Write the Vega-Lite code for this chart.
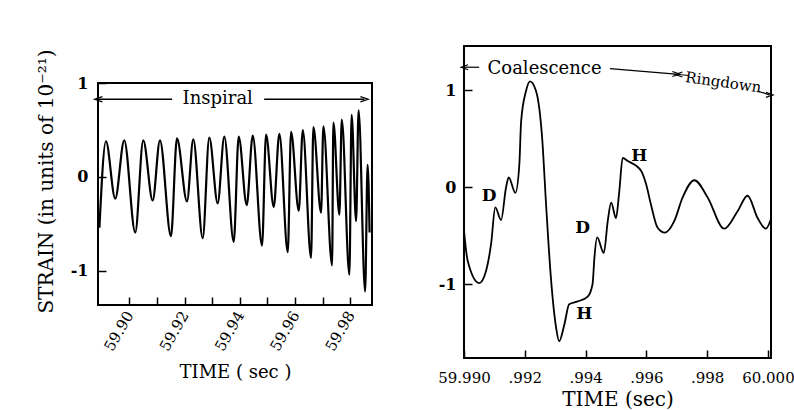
{
  "$schema": "https://vega.github.io/schema/vega-lite/v6.json",
  "padding": {"left": 34, "top": 45, "right": 24, "bottom": 0},
  "background": "white",
  "spacing": 61,
  "config": {
    "view": {"stroke": "black", "strokeWidth": 2},
    "font": "DejaVu Serif",
    "axis": {"grid": false, "domain": false, "labelFont": "DejaVu Serif", "titleFont": "DejaVu Serif", "labelColor": "black", "titleColor": "black", "tickColor": "black", "tickWidth": 1.5, "titleFontWeight": "normal"}
  },
  "datasets": {
    "inspiral": [
      {"time": 59.88921, "strain": -0.54}, {"time": 59.89157, "strain": 0.38}, {"time": 59.89493, "strain": -0.23},
      {"time": 59.89819, "strain": 0.39}, {"time": 59.90217, "strain": -0.59}, {"time": 59.90507, "strain": 0.39},
      {"time": 59.90847, "strain": -0.25}, {"time": 59.91111, "strain": 0.39}, {"time": 59.91509, "strain": -0.63},
      {"time": 59.91726, "strain": 0.41}, {"time": 59.92088, "strain": -0.26}, {"time": 59.92316, "strain": 0.40},
      {"time": 59.92657, "strain": -0.65}, {"time": 59.92895, "strain": 0.42}, {"time": 59.93199, "strain": -0.28},
      {"time": 59.93438, "strain": 0.43}, {"time": 59.93779, "strain": -0.69}, {"time": 59.93959, "strain": 0.43},
      {"time": 59.94249, "strain": -0.30}, {"time": 59.94466, "strain": 0.44}, {"time": 59.94803, "strain": -0.73},
      {"time": 59.94948, "strain": 0.45}, {"time": 59.95226, "strain": -0.32}, {"time": 59.95429, "strain": 0.46},
      {"time": 59.95733, "strain": -0.80}, {"time": 59.95852, "strain": 0.48}, {"time": 59.96131, "strain": -0.36},
      {"time": 59.96276, "strain": 0.50}, {"time": 59.96576, "strain": -0.86}, {"time": 59.96659, "strain": 0.53},
      {"time": 59.96938, "strain": -0.38}, {"time": 59.97021, "strain": 0.54}, {"time": 59.97336, "strain": -0.94},
      {"time": 59.97383, "strain": 0.58}, {"time": 59.97600, "strain": -0.40}, {"time": 59.97687, "strain": 0.61},
      {"time": 59.97962, "strain": -1.04}, {"time": 59.98042, "strain": 0.66}, {"time": 59.98205, "strain": -0.47},
      {"time": 59.98295, "strain": 0.71}, {"time": 59.98531, "strain": -1.22}, {"time": 59.98621, "strain": 0.13},
      {"time": 59.98693, "strain": -0.59}
    ],
    "inspiralSegments": [
      {"time": 59.8889, "time2": 59.9155, "strain": 0.827, "strain2": 0.827},
      {"time": 59.9488, "time2": 59.9850, "strain": 0.827, "strain2": 0.827}
    ],
    "inspiralHeads": [
      {"time": 59.8889, "strain": 0.827, "dir": "left"},
      {"time": 59.9850, "strain": 0.827, "dir": "right"}
    ],
    "inspiralLabels": [
      {"time": 59.9320, "strain": 0.83, "label": "Inspiral"}
    ],
    "merger": [
      {"time": 59.99000, "strain": -0.45}, {"time": 59.99012, "strain": -0.76}, {"time": 59.99050, "strain": -0.99},
      {"time": 59.99072, "strain": -0.87}, {"time": 59.99089, "strain": -0.59}, {"time": 59.99103, "strain": -0.21},
      {"time": 59.99122, "strain": -0.34}, {"time": 59.99138, "strain": -0.01}, {"time": 59.99147, "strain": 0.10},
      {"time": 59.99169, "strain": -0.06}, {"time": 59.99182, "strain": 0.23}, {"time": 59.99188, "strain": 0.68},
      {"time": 59.99204, "strain": 0.99}, {"time": 59.99217, "strain": 1.09}, {"time": 59.99237, "strain": 0.99},
      {"time": 59.99257, "strain": 0.51}, {"time": 59.99270, "strain": -0.18}, {"time": 59.99286, "strain": -0.94},
      {"time": 59.99303, "strain": -1.45}, {"time": 59.99313, "strain": -1.59}, {"time": 59.99330, "strain": -1.42},
      {"time": 59.99346, "strain": -1.21}, {"time": 59.99374, "strain": -1.18}, {"time": 59.99407, "strain": -1.13},
      {"time": 59.99423, "strain": -1.00}, {"time": 59.99429, "strain": -0.73}, {"time": 59.99438, "strain": -0.52},
      {"time": 59.99460, "strain": -0.68}, {"time": 59.99473, "strain": -0.35}, {"time": 59.99484, "strain": -0.16},
      {"time": 59.99500, "strain": -0.32}, {"time": 59.99511, "strain": -0.04}, {"time": 59.99522, "strain": 0.30},
      {"time": 59.99538, "strain": 0.27}, {"time": 59.99582, "strain": 0.17}, {"time": 59.99599, "strain": 0.03},
      {"time": 59.99615, "strain": -0.18}, {"time": 59.99637, "strain": -0.42}, {"time": 59.99661, "strain": -0.47},
      {"time": 59.99692, "strain": -0.35}, {"time": 59.99719, "strain": -0.11}, {"time": 59.99758, "strain": 0.07},
      {"time": 59.99802, "strain": -0.11}, {"time": 59.99856, "strain": -0.43}, {"time": 59.99900, "strain": -0.25},
      {"time": 59.99933, "strain": -0.09}, {"time": 59.99966, "strain": -0.32}, {"time": 59.99993, "strain": -0.43},
      {"time": 60.00010, "strain": -0.33}
    ],
    "mergerSegments": [
      {"time": 59.99002, "time2": 59.99050, "strain": 1.235, "strain2": 1.235},
      {"time": 59.99480, "time2": 59.99697, "strain": 1.22, "strain2": 1.165},
      {"time": 59.99707, "time2": 59.99740, "strain": 1.16, "strain2": 1.15},
      {"time": 59.99965, "time2": 60.00005, "strain": 0.99, "strain2": 0.95}
    ],
    "mergerHeads": [
      {"time": 59.99002, "strain": 1.235, "dir": "left"},
      {"time": 59.99697, "strain": 1.165, "dir": "right"},
      {"time": 59.99707, "strain": 1.16, "dir": "left"},
      {"time": 60.00005, "strain": 0.95, "dir": "right"}
    ],
    "mergerPhase": [
      {"time": 59.99265, "strain": 1.22, "label": "Coalescence"}
    ],
    "ringdownPhase": [
      {"time": 59.99853, "strain": 1.08, "label": "Ringdown"}
    ],
    "mergerMarks": [
      {"time": 59.99083, "strain": -0.09, "label": "D"},
      {"time": 59.99390, "strain": -0.42, "label": "D"},
      {"time": 59.99396, "strain": -1.31, "label": "H"},
      {"time": 59.99577, "strain": 0.32, "label": "H"}
    ]
  },
  "hconcat": [
    {
      "spacing": 0,
      "vconcat": [
        {
          "width": 274,
          "height": 1,
          "view": {"stroke": null},
          "data": {"values": []},
          "mark": {"type": "rule"},
          "encoding": {}
        },
        {
          "width": 274,
          "height": 222,
          "encoding": {
            "x": {"field": "time", "type": "quantitative",
              "scale": {"domain": [59.8887, 59.9878], "nice": false, "zero": false},
              "axis": {"values": [59.90, 59.91, 59.92, 59.93, 59.94, 59.95, 59.96, 59.97, 59.98],
                "labelExpr": "round(datum.value*100) % 2 == 0 ? format(datum.value, '.2f') : ''",
                "labelAngle": -60, "labelFontSize": 15, "tickSize": -8, "labelPadding": 15,
                "title": "TIME ( sec )", "titleFontSize": 18, "titlePadding": 10}},
            "y": {"field": "strain", "type": "quantitative",
              "scale": {"domain": [-1.362, 1.0], "nice": false, "zero": false},
              "axis": {"values": [-1, 0, 1],
                "labelExpr": "replace(format(datum.value, 'd'), '\u2212', '-')",
                "labelFontSize": 16, "labelFontWeight": "bold", "tickSize": -8, "labelPadding": 18,
                "title": "STRAIN (in units of 10\u207b\u00b2\u00b9)", "titleFontSize": 20,
                "titleX": -52, "titleY": 98, "titleBaseline": "middle", "titleAlign": "center", "titleAngle": -90}}
          },
          "layer": [
            {"data": {"name": "inspiral"}, "mark": {"type": "line", "interpolate": "monotone", "color": "black", "strokeWidth": 2.2}, "encoding": {}},
            {"data": {"name": "inspiralSegments"}, "mark": {"type": "rule", "color": "black", "strokeWidth": 1.3},
              "encoding": {"x2": {"field": "time2"}, "y2": {"field": "strain2"}}},
            {"data": {"name": "inspiralHeads"}, "mark": {"type": "point", "filled": false, "color": "black", "strokeWidth": 1.3, "size": 60, "opacity": 1},
              "encoding": {"shape": {"field": "dir", "type": "nominal", "scale": {"domain": ["left", "right"], "range": ["M1,-0.7L-1,0L1,0.7", "M-1,-0.7L1,0L-1,0.7"]}, "legend": null}}},
            {"data": {"name": "inspiralLabels"}, "mark": {"type": "text", "fontSize": 18, "color": "black", "baseline": "middle"},
              "encoding": {"text": {"field": "label"}}}
          ]
        }
      ]
    },
    {
      "width": 307,
      "height": 312,
      "encoding": {
        "x": {"field": "time", "type": "quantitative",
          "scale": {"domain": [59.990, 60.0001], "nice": false, "zero": false},
          "axis": {"values": [59.990, 59.992, 59.994, 59.996, 59.998, 60.000],
            "labelExpr": "datum.value < 59.991 ? '59.990' : datum.value > 59.9995 ? '60.000' : '.' + format(round((datum.value - 59) * 1000), 'd')",
            "labelAngle": 0, "labelFontSize": 15, "tickSize": -8, "labelPadding": 20, "labelFlush": false,
            "title": "TIME (sec)", "titleFontSize": 20, "titlePadding": 4}},
        "y": {"field": "strain", "type": "quantitative",
          "scale": {"domain": [-1.763, 1.454], "nice": false, "zero": false},
          "axis": {"values": [-1, 0, 1],
            "labelExpr": "replace(format(datum.value, 'd'), '\u2212', '-')",
            "labelFontSize": 16, "labelFontWeight": "bold", "tickSize": -8, "labelPadding": 16,
            "title": null}}
      },
      "layer": [
        {"data": {"name": "merger"}, "mark": {"type": "line", "interpolate": "monotone", "color": "black", "strokeWidth": 1.8}, "encoding": {}},
        {"data": {"name": "mergerSegments"}, "mark": {"type": "rule", "color": "black", "strokeWidth": 1.2},
          "encoding": {"x2": {"field": "time2"}, "y2": {"field": "strain2"}}},
        {"data": {"name": "mergerHeads"}, "mark": {"type": "point", "filled": false, "color": "black", "strokeWidth": 1.2, "size": 50, "opacity": 1},
          "encoding": {"shape": {"field": "dir", "type": "nominal", "scale": {"domain": ["left", "right"], "range": ["M1,-0.7L-1,0L1,0.7", "M-1,-0.7L1,0L-1,0.7"]}, "legend": null}}},
        {"data": {"name": "mergerPhase"}, "mark": {"type": "text", "fontSize": 18, "color": "black", "baseline": "middle"},
          "encoding": {"text": {"field": "label"}}},
        {"data": {"name": "ringdownPhase"}, "mark": {"type": "text", "fontSize": 15, "color": "black", "baseline": "middle", "angle": 8},
          "encoding": {"text": {"field": "label"}}},
        {"data": {"name": "mergerMarks"}, "mark": {"type": "text", "fontSize": 17, "fontWeight": "bold", "color": "black", "baseline": "middle"},
          "encoding": {"text": {"field": "label"}}}
      ]
    }
  ]
}
